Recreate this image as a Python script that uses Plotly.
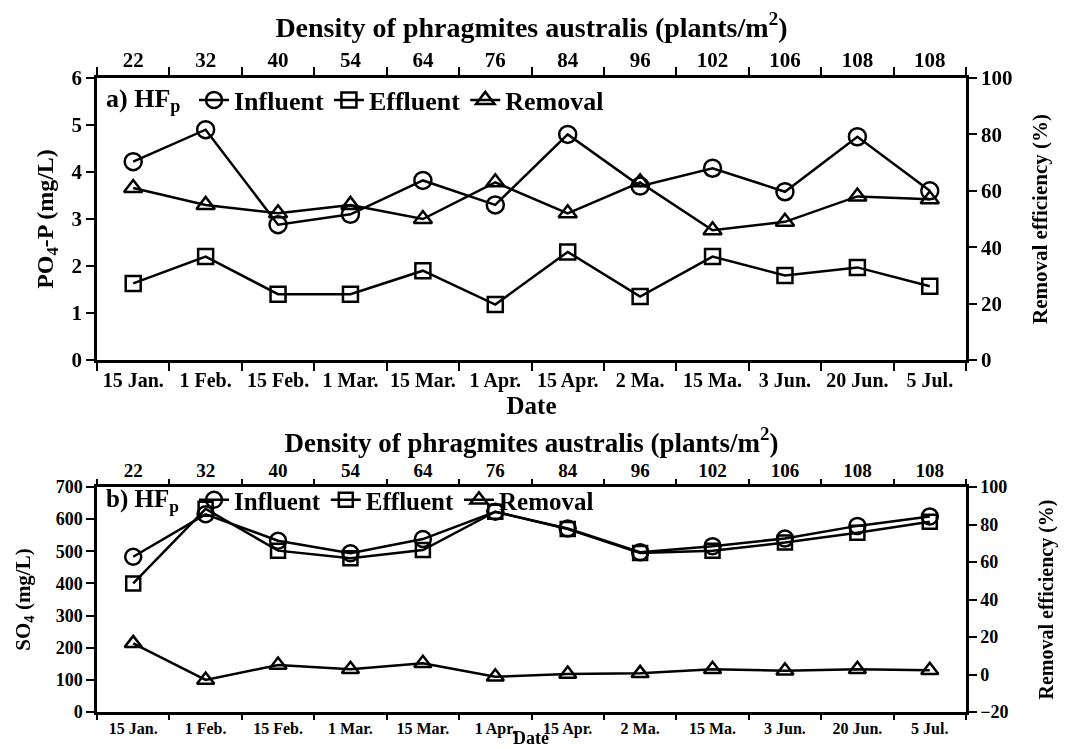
import plotly.graph_objects as go

dates = ["15 Jan.", "1 Feb.", "15 Feb.", "1 Mar.", "15 Mar.", "1 Apr.", "15 Apr.",
         "2 Ma.", "15 Ma.", "3 Jun.", "20 Jun.", "5 Jul."]
density = ["22", "32", "40", "54", "64", "76", "84", "96", "102", "106", "108", "108"]

# Panel a) PO4-P
po4_influent = [4.22, 4.90, 2.88, 3.10, 3.82, 3.30, 4.80, 3.70, 4.08, 3.58, 4.75, 3.60]
po4_effluent = [1.63, 2.20, 1.40, 1.40, 1.90, 1.18, 2.30, 1.35, 2.20, 1.80, 1.97, 1.57]
po4_removal = [61, 55, 52, 55, 50, 63, 52, 63, 46, 49, 58, 57]

# Panel b) SO4
so4_influent = [483, 615, 533, 494, 538, 623, 571, 497, 516, 540, 579, 608]
so4_effluent = [400, 632, 502, 478, 504, 623, 569, 495, 502, 527, 558, 592]
so4_removal = [16.6, -2.9, 5.1, 2.8, 6.0, -1.2, 0.3, 0.6, 2.8, 2.0, 2.8, 2.3]

idx = list(range(len(dates)))
FONT = "Liberation Serif"
BLACK = "#000000"


def line_trace(x, y, name, symbol, xa, ya, legend, show=True, size=15):
    return go.Scatter(
        x=x, y=y, name=name, mode="lines+markers",
        line=dict(color=BLACK, width=2.5),
        marker=dict(symbol=symbol, size=size, color="rgba(255,255,255,0)",
                    line=dict(color=BLACK, width=2.5)),
        xaxis=xa, yaxis=ya, legend=legend, showlegend=show, hoverinfo="skip",
    )


fig = go.Figure()
# panel a
fig.add_trace(line_trace(dates, po4_influent, "Influent", "circle", "x", "y", "legend", size=17))
fig.add_trace(line_trace(dates, po4_effluent, "Effluent", "square", "x", "y", "legend"))
fig.add_trace(line_trace(dates, po4_removal, "Removal", "triangle-up", "x", "y2", "legend", size=16))
fig.add_trace(go.Scatter(x=idx, y=po4_influent, xaxis="x2", yaxis="y", mode="markers",
                         opacity=0, showlegend=False, hoverinfo="skip"))
# panel b
fig.add_trace(line_trace(dates, so4_influent, "Influent", "circle", "x3", "y3", "legend2", size=16))
fig.add_trace(line_trace(dates, so4_effluent, "Effluent", "square", "x3", "y3", "legend2", size=14))
fig.add_trace(line_trace(dates, so4_removal, "Removal", "triangle-up", "x3", "y4", "legend2", size=15))
fig.add_trace(go.Scatter(x=idx, y=so4_influent, xaxis="x4", yaxis="y3", mode="markers",
                         opacity=0, showlegend=False, hoverinfo="skip"))

# page body has an 8px margin, so the figure is drawn 8px right/down
OFF = 8
W, H = 1080 - OFF, 749 - OFF
L = 97 - OFF
R = W - (966 - OFF)
PW = W - L - R


def px(x):
    return (x - OFF - L) / PW


def py(y):
    return 1 - (y - OFF) / H


top_dom = [py(360), py(78)]
bot_dom = [py(712), py(487)]

axline = dict(showline=True, linecolor=BLACK, linewidth=2.5, ticks="outside",
              ticklen=8, tickwidth=2, tickcolor=BLACK, showgrid=False, zeroline=False,
              automargin=False)


def bottom_x(anchor, tsize, title_text, title_size, standoff, ticklen):
    d = dict(axline)
    d["ticklen"] = ticklen
    return dict(**d, type="category", categoryorder="array", categoryarray=dates,
                range=[-0.5, len(dates) - 0.5], tickson="boundaries", anchor=anchor,
                tickangle=0,
                tickfont=dict(family=FONT, size=tsize, color=BLACK, weight="bold"),
                title=dict(text=title_text, standoff=standoff,
                           font=dict(family=FONT, size=title_size, color=BLACK, weight="bold")))


def top_x(overlay, anchor, tsize, title_size, standoff, ticklen):
    return dict(showline=True, linecolor=BLACK, linewidth=2.5, showgrid=False, zeroline=False,
                automargin=False, overlaying=overlay, anchor=anchor, side="top",
                range=[-0.5, len(dates) - 0.5], tickangle=0,
                tickmode="array", tickvals=idx, ticktext=density, ticks="",
                minor=dict(ticks="outside", tick0=-0.5, dtick=1, ticklen=ticklen, tickwidth=2,
                           tickcolor=BLACK, showgrid=False),
                tickfont=dict(family=FONT, size=tsize, color=BLACK, weight="bold"),
                title=dict(text="Density of phragmites australis (plants/m<sup>2</sup>)",
                           standoff=standoff,
                           font=dict(family=FONT, size=title_size, color=BLACK, weight="bold")))


fig.update_layout(
    width=W, height=H, margin=dict(l=L, r=R, t=0, b=0),
    paper_bgcolor="white", plot_bgcolor="white",
    xaxis=bottom_x("y", 20, "Date", 25, 0, 8),
    xaxis2=top_x("x", "y", 21, 28, 8, 8),
    xaxis3=bottom_x("y3", 16, "", 23, 0, 5),
    xaxis4=top_x("x3", "y3", 19, 27, 0, 5),
    yaxis=dict(**axline, domain=top_dom, range=[0, 6], dtick=1,
               tickfont=dict(family=FONT, size=21, color=BLACK, weight="bold"),
               title=dict(text="PO<sub>4</sub>-P (mg/L)", standoff=12,
                          font=dict(family=FONT, size=24, color=BLACK, weight="bold"))),
    yaxis2=dict(**axline, overlaying="y", side="right", range=[0, 100], dtick=20, anchor="x",
                tickfont=dict(family=FONT, size=21, color=BLACK, weight="bold"),
                title=dict(text="Removal efficiency (%)", standoff=21,
                           font=dict(family=FONT, size=21, color=BLACK, weight="bold"))),
    yaxis3=dict(**axline, domain=bot_dom, range=[0, 700], dtick=100,
                tickfont=dict(family=FONT, size=18, color=BLACK, weight="bold"),
                title=dict(text="SO<sub>4</sub> (mg/L)", standoff=20,
                           font=dict(family=FONT, size=21, color=BLACK, weight="bold"))),
    yaxis4=dict(**axline, overlaying="y3", side="right", range=[-20, 100], dtick=20, anchor="x3",
                tickfont=dict(family=FONT, size=18, color=BLACK, weight="bold"),
                title=dict(text="Removal efficiency (%)", standoff=32,
                           font=dict(family=FONT, size=20, color=BLACK, weight="bold"))),
    legend=dict(orientation="h", x=px(194), y=py(100), xanchor="left", yanchor="middle",
                bgcolor="rgba(0,0,0,0)", itemwidth=30,
                font=dict(family=FONT, size=26, color=BLACK, weight="bold")),
    legend2=dict(orientation="h", x=px(194), y=py(500), xanchor="left", yanchor="middle",
                 bgcolor="rgba(0,0,0,0)", itemwidth=30,
                 font=dict(family=FONT, size=25, color=BLACK, weight="bold")),
    annotations=[
        dict(text="a) HF<sub>p</sub>", xref="paper", yref="paper", x=px(104), y=py(100),
             xanchor="left", yanchor="middle", showarrow=False,
             font=dict(family=FONT, size=26, color=BLACK, weight="bold")),
        dict(text="b) HF<sub>p</sub>", xref="paper", yref="paper", x=px(104), y=py(500),
             xanchor="left", yanchor="middle", showarrow=False,
             font=dict(family=FONT, size=25, color=BLACK, weight="bold")),
        dict(text="Date", xref="paper", yref="paper", x=px(531), y=py(749),
             xanchor="center", yanchor="bottom", showarrow=False, borderpad=0,
             font=dict(family=FONT, size=18, color=BLACK, weight="bold")),
    ],
)

fig.write_html("out.html")
